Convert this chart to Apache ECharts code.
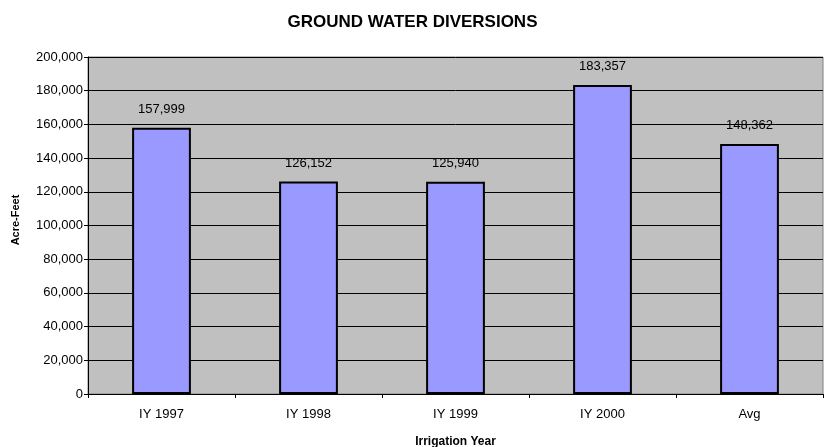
<!DOCTYPE html>
<html>
<head>
<meta charset="utf-8">
<script src="https://cdn.jsdelivr.net/npm/echarts@6/dist/echarts.min.js"></script>
<style>
  html, body { margin: 0; padding: 0; background: #fff; }
  #chart { width: 825px; height: 447px; }
</style>
</head>
<body>
<div id="chart"></div>
<script>
// Irrigation years and ground water diversions (acre-feet)
const categories = ['IY 1997', 'IY 1998', 'IY 1999', 'IY 2000', 'Avg'];
const diversions = [157999, 126152, 125940, 183357, 148362];
const yTicks = [0, 20000, 40000, 60000, 80000, 100000, 120000, 140000, 160000, 180000, 200000];

const fmt = v => v.toLocaleString('en-US');
const FONT = '"Liberation Sans", Arial, sans-serif';

const chart = echarts.init(document.getElementById('chart'), null, { renderer: 'canvas' });
chart.setOption({
  animation: false,
  backgroundColor: '#ffffff',
  title: {
    text: 'GROUND WATER DIVERSIONS',
    left: 'center',
    top: 9,
    textStyle: { fontFamily: FONT, fontSize: 17, fontWeight: 'bold', color: '#000' }
  },
  grid: {
    left: 88, right: 2, top: 57, bottom: 53,
    outerBoundsMode: 'none',
    containLabel: false,
    show: true,
    backgroundColor: '#c0c0c0',
    borderColor: '#808080',
    borderWidth: 1
  },
  xAxis: {
    type: 'category',
    data: categories,
    name: 'Irrigation Year',
    nameLocation: 'middle',
    nameGap: 42,
    nameTextStyle: { fontFamily: FONT, fontSize: 12, fontWeight: 'bold', color: '#000' },
    axisLine: { lineStyle: { color: '#000', width: 1 } },
    axisTick: { show: true, alignWithLabel: false, length: 4, lineStyle: { color: '#000' } },
    axisLabel: { fontFamily: FONT, fontSize: 13, color: '#000', margin: 14 }
  },
  yAxis: {
    type: 'value',
    min: yTicks[0],
    max: yTicks[yTicks.length - 1],
    interval: yTicks[1] - yTicks[0],
    name: 'Acre-Feet',
    nameLocation: 'middle',
    nameGap: 67,
    nameTextStyle: { fontFamily: FONT, fontSize: 11, fontWeight: 'bold', color: '#000', padding: [0, 0, 0, 11] },
    axisLine: { show: true, lineStyle: { color: '#000', width: 1 } },
    axisTick: { show: true, length: 4, lineStyle: { color: '#000' } },
    axisLabel: { fontFamily: FONT, fontSize: 13, color: '#000', margin: 5, formatter: v => fmt(v) },
    splitLine: { show: true, lineStyle: { color: '#000', width: 1 } }
  },
  series: [{
    type: 'bar',
    data: diversions,
    barWidth: '40%',
    itemStyle: { color: '#9999ff', borderColor: '#000', borderWidth: 2 },
    label: {
      show: true,
      position: 'top',
      distance: 12,
      fontFamily: FONT,
      fontSize: 13,
      color: '#000',
      formatter: p => fmt(p.value)
    }
  }]
});
</script>
</body>
</html>
